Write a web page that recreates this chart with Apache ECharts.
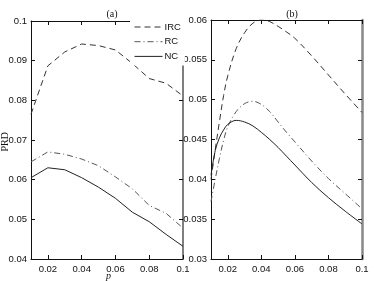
<!DOCTYPE html>
<html><head><meta charset="utf-8">
<script src="https://cdn.jsdelivr.net/npm/echarts@6/dist/echarts.min.js"></script>
<style>html,body{margin:0;padding:0;background:#fff}#c{width:374px;height:281px}</style>
</head><body><div id="c"></div>
<script>
// Panel (a)
const xA = [0.01, 0.02, 0.03, 0.04, 0.05, 0.06, 0.07, 0.08, 0.09, 0.1];
const ircA = [0.0765, 0.0887, 0.0922, 0.0942, 0.0938, 0.0927, 0.0893, 0.0855, 0.0843, 0.0811];
const rcA  = [0.0645, 0.0670, 0.0664, 0.0652, 0.0635, 0.0607, 0.0577, 0.0535, 0.0515, 0.0478];
const ncA  = [0.0605, 0.0630, 0.0625, 0.0605, 0.0581, 0.0553, 0.0518, 0.0494, 0.0462, 0.0432];
// Panel (b)
const xB = [0.01, 0.0125, 0.015, 0.0175, 0.02, 0.025, 0.03, 0.035, 0.04, 0.045, 0.05, 0.055, 0.06, 0.07, 0.08, 0.09, 0.1];
const ircB = [0.0400, 0.0437, 0.0472, 0.0505, 0.0530, 0.0564, 0.0584, 0.0596, 0.0600, 0.0598, 0.0592, 0.0585, 0.0577, 0.0555, 0.0531, 0.0507, 0.0484];
const rcB  = [0.0372, 0.0400, 0.0426, 0.0449, 0.0466, 0.0485, 0.0495, 0.0498, 0.0494, 0.0485, 0.0472, 0.0459, 0.0447, 0.0423, 0.0401, 0.0382, 0.0363];
const ncB  = [0.0405, 0.0436, 0.0452, 0.0462, 0.0469, 0.0474, 0.0472, 0.0467, 0.0459, 0.0450, 0.0440, 0.0429, 0.0418, 0.0396, 0.0377, 0.0360, 0.0344];
const xTicks = [0.02, 0.04, 0.06, 0.08, 0.1];
const names = ['IRC', 'RC', 'NC'];

const pair = (xs, ys) => xs.map((x, i) => [x, ys[i]]);
const fmt = v => String(+(+v).toFixed(4));
const labFont = {fontFamily: 'Liberation Sans, Arial, sans-serif', fontSize: 9.5, color: '#111'};

function xAxes(gi) {
  return [
    {gridIndex: gi, type: 'value', min: 0.01, max: 0.1, position: 'bottom',
     axisLine: {onZero: false, lineStyle: {color: '#111', width: 1}},
     axisTick: {inside: true, length: 4, customValues: xTicks, lineStyle: {color: '#111'}},
     axisLabel: Object.assign({customValues: xTicks, formatter: fmt, margin: 5}, labFont),
     splitLine: {show: false}},
    {gridIndex: gi, type: 'value', min: 0.01, max: 0.1, position: 'top',
     axisLine: {onZero: false, lineStyle: {color: '#111', width: 1}},
     axisTick: {inside: true, length: 4, customValues: xTicks, lineStyle: {color: '#111'}},
     axisLabel: {show: false}, splitLine: {show: false}}
  ];
}
function yAxes(gi, min, max, step, rightColor, rightWidth) {
  return [
    {gridIndex: gi, type: 'value', min: min, max: max, interval: step, position: 'left',
     axisLine: {show: true, onZero: false, lineStyle: {color: '#111', width: 1}},
     axisTick: {show: true, inside: true, length: 4, lineStyle: {color: '#111'}},
     axisLabel: Object.assign({formatter: fmt, margin: 4}, labFont),
     splitLine: {show: false}},
    {gridIndex: gi, type: 'value', min: min, max: max, interval: step, position: 'right',
     axisLine: {show: true, onZero: false, lineStyle: {color: rightColor, width: rightWidth}},
     axisTick: {show: true, inside: true, length: 4, lineStyle: {color: '#111'}},
     axisLabel: {show: false}, splitLine: {show: false}}
  ];
}
const styles = [
  {color: '#333', width: 1, type: [6, 4]},
  {color: '#555', width: 1, type: [6, 3, 1, 3]},
  {color: '#222', width: 1, type: 'solid'}
];
function mk(name, xi, yi, xs, ys, k, smooth) {
  return {name: name, type: 'line', xAxisIndex: xi, yAxisIndex: yi, data: pair(xs, ys),
    symbol: 'none', smooth: smooth, lineStyle: styles[k], itemStyle: {color: styles[k].color},
    emphasis: {disabled: true}, z: 2};
}

const chart = echarts.init(document.getElementById('c'), null, {renderer: 'canvas'});
chart.setOption({
  animation: false,
  backgroundColor: '#fff',
  grid: [
    {left: 31, right: 191, top: 21, bottom: 22},
    {left: 211, right: 12, top: 20, bottom: 22}
  ],
  title: [
    {text: '(a)', left: 107, top: 4, textAlign: 'center',
     textStyle: {fontFamily: 'Liberation Serif, Times New Roman, serif', fontSize: 10, fontWeight: 'normal', color: '#111'}},
    {text: '(b)', left: 287, top: 4, textAlign: 'center',
     textStyle: {fontFamily: 'Liberation Serif, Times New Roman, serif', fontSize: 10, fontWeight: 'normal', color: '#111'}}
  ],
  legend: {
    data: names, orient: 'vertical', left: 130, top: 16, backgroundColor: '#fff',
    padding: [6, 4, 4, 4], itemWidth: 28, itemHeight: 8, itemGap: 4.7, align: 'left',
    itemStyle: {opacity: 0, borderWidth: 0},
    lineStyle: {width: 1},
    textStyle: {fontFamily: 'Liberation Sans, Arial, sans-serif', fontSize: 9.5, color: '#111', padding: [0, 0, 0, -3]},
    selectedMode: false, z: 10
  },
  xAxis: xAxes(0).concat(xAxes(1)),
  yAxis: yAxes(0, 0.04, 0.1, 0.01, '#555', 1.5).concat(yAxes(1, 0.03, 0.06, 0.005, '#888', 2.5)),
  graphic: [
    {type: 'text', left: 0, top: 132, rotation: Math.PI / 2,
     style: {text: 'PRD', font: '10px "Liberation Serif", serif', fill: '#111'}},
    {type: 'text', left: 106, top: 271,
     style: {text: 'p', font: 'italic 10px "Liberation Serif", serif', fill: '#111'}}
  ],
  series: [
    mk('IRC', 0, 0, xA, ircA, 0, false),
    mk('RC', 0, 0, xA, rcA, 1, false),
    mk('NC', 0, 0, xA, ncA, 2, false),
    mk('IRC', 2, 2, xB, ircB, 0, 0.35),
    mk('RC', 2, 2, xB, rcB, 1, 0.35),
    mk('NC', 2, 2, xB, ncB, 2, 0.35)
  ]
});
</script></body></html>
